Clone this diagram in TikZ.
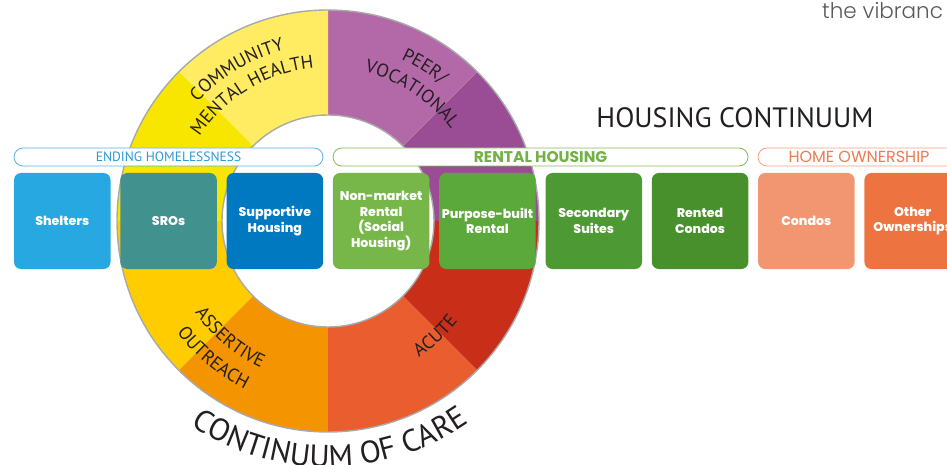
\documentclass[tikz,border=0pt]{standalone}
\usepackage{fontspec}
\setmainfont{PT Sans}
\newfontfamily\ptfont{PT Sans}
\newfontfamily\popfont{Poppins}[BoldFont={Poppins Bold}]
\newfontfamily\popxbold{Poppins ExtraBold}
\newfontfamily\poplight{Poppins Light}
\usetikzlibrary{decorations.text,calc}
\definecolor{ink}{HTML}{231F20}
\definecolor{ringgray}{HTML}{A7A9AC}
\definecolor{cDP}{HTML}{9A4D95}
\definecolor{cLP}{HTML}{B369A8}
\definecolor{cLY}{HTML}{FFEC62}
\definecolor{cBY}{HTML}{F8E500}
\definecolor{cGD}{HTML}{FFCC00}
\definecolor{cOR}{HTML}{F39400}
\definecolor{cOR2}{HTML}{E95D2F}
\definecolor{cRD}{HTML}{C82E18}
\definecolor{bShel}{HTML}{27A8E0}
\definecolor{bSRO}{HTML}{41918E}
\definecolor{bSup}{HTML}{0079C1}
\definecolor{bNon}{HTML}{77B74A}
\definecolor{bPur}{HTML}{5BA93B}
\definecolor{bSec}{HTML}{4D9A34}
\definecolor{bRen}{HTML}{47902B}
\definecolor{bCon}{HTML}{F29671}
\definecolor{bOth}{HTML}{ED7441}
\definecolor{eStroke}{HTML}{5AB4E5}
\definecolor{eText}{HTML}{2B9AD6}
\definecolor{rStroke}{HTML}{86BC54}
\definecolor{rText}{HTML}{72B244}
\definecolor{hStroke}{HTML}{F3A27E}
\definecolor{hText}{HTML}{EE7A50}
\definecolor{vib}{HTML}{58595B}
\newcommand\ringfmt{\ptfont\fontsize{18.5}{20}\selectfont\color{ink}}
\newcommand\carefmt{\ptfont\fontsize{31}{33}\selectfont\color{ink}}
\begin{document}
\begin{tikzpicture}[x=1pt,y=1pt,
  ringline/.style={draw=ringgray,line width=1.4pt},
  hbox/.style={minimum width=96.5pt,minimum height=96pt,rounded corners=7pt,inner sep=0pt,
    text=white,align=center,font=\popxbold\fontsize{12.6}{15.6}\selectfont},
  catbar/.style={draw,fill=white,line width=0.8pt,minimum height=18pt,rounded corners=9pt,inner sep=0pt}]
\useasboundingbox (0,0) rectangle (947,-465);
\clip (0,0) rectangle (947,-465);
\coordinate (C) at (328,-221);
% ring sectors
\foreach \a/\col in {0/cDP,45/cLP,90/cLY,135/cBY,180/cGD,225/cOR,270/cOR2,315/cRD}
  \fill[\col] (C) -- ($(C)+(\a:211pt)$) arc[start angle=\a, end angle=\a+45, radius=211pt] -- cycle;
\fill[white] (C) circle[radius=106pt];
\draw[ringline] (C) circle[radius=211pt];
\draw[ringline] (C) circle[radius=106pt];
% ring labels (top: clockwise)
\path[decorate,decoration={text along path,text align=center,text={|\ringfmt|COMMUNITY}}]
  ($(C)+(171:176.5pt)$) arc[start angle=171,end angle=71,radius=176.5pt];
\path[decorate,decoration={text along path,text align=center,text={|\ringfmt|MENTAL HEALTH}}]
  ($(C)+(171:153.5pt)$) arc[start angle=171,end angle=71,radius=153.5pt];
\path[decorate,decoration={text along path,text align=center,text={|\ringfmt|PEER/}}]
  ($(C)+(103:177.5pt)$) arc[start angle=103,end angle=13,radius=177.5pt];
\path[decorate,decoration={text along path,text align=center,text={|\ringfmt|VOCATIONAL}}]
  ($(C)+(101.5:153.5pt)$) arc[start angle=101.5,end angle=11.5,radius=153.5pt];
% ring labels (bottom: counterclockwise)
\path[decorate,decoration={text along path,text align=center,text={|\ringfmt|ASSERTIVE}}]
  ($(C)+(185:161.5pt)$) arc[start angle=185,end angle=275,radius=161.5pt];
\path[decorate,decoration={text along path,text align=center,text={|\ringfmt|OUTREACH}}]
  ($(C)+(185:187.5pt)$) arc[start angle=185,end angle=275,radius=187.5pt];
\path[decorate,decoration={text along path,text align=center,text={|\ringfmt|ACUTE}}]
  ($(C)+(268:164pt)$) arc[start angle=268,end angle=358,radius=164pt];
\path[decorate,decoration={text along path,text align=center,text={|\carefmt|CONTINUUM OF CARE}}]
  ($(C)+(222:246pt)$) arc[start angle=222,end angle=319,radius=246pt];
% category bars
\node[catbar,draw=eStroke,minimum width=309pt] (ending) at (168.5,-157) {};
\node[text=eText,font=\ptfont\fontsize{13.5}{16}\selectfont] (endingT) at (ending) {ENDING HOMELESSNESS};
\node[catbar,draw=rStroke,minimum width=415pt] (rental) at (540.5,-157) {};
\node[text=rText,font=\popfont\bfseries\fontsize{15.5}{17}\selectfont] (rentalT) at (rental) {RENTAL HOUSING};
\node[catbar,draw=hStroke,minimum width=202pt] (home) at (859,-157) {};
\node[text=hText,font=\popfont\fontsize{16}{18}\selectfont] (homeT) at (home) {HOME OWNERSHIP};
% boxes
\node[hbox,fill=bShel] (shelters) at (62.25,-221) {Shelters};
\node[hbox,fill=bSRO] (sros) at (168.55,-221) {SROs};
\node[hbox,fill=bSup] (supportive) at (274.85,-221) {Supportive\\Housing};
\node[hbox,fill=bNon] (nonmarket) at (381.15,-221) {Non-market\\Rental\\(Social\\Housing)};
\node[hbox,fill=bPur] (purpose) at (487.45,-221) {Purpose-built\\Rental};
\node[hbox,fill=bSec] (secondary) at (593.75,-221) {Secondary\\Suites};
\node[hbox,fill=bRen] (rented) at (700.05,-221) {Rented\\Condos};
\node[hbox,fill=bCon] (condos) at (806.35,-221) {Condos};
\node[hbox,fill=bOth] (other) at (912.65,-221) {Other\\Ownerships};
% titles
\node[text=ink,font=\ptfont\fontsize{28}{30}\selectfont] (title) at (735,-118) {HOUSING CONTINUUM};
\node[anchor=base west,inner sep=0pt,text=vib,font=\poplight\fontsize{21.5}{23}\selectfont] (vibr) at (822,-19) {the vibranc};
\end{tikzpicture}
\end{document}
